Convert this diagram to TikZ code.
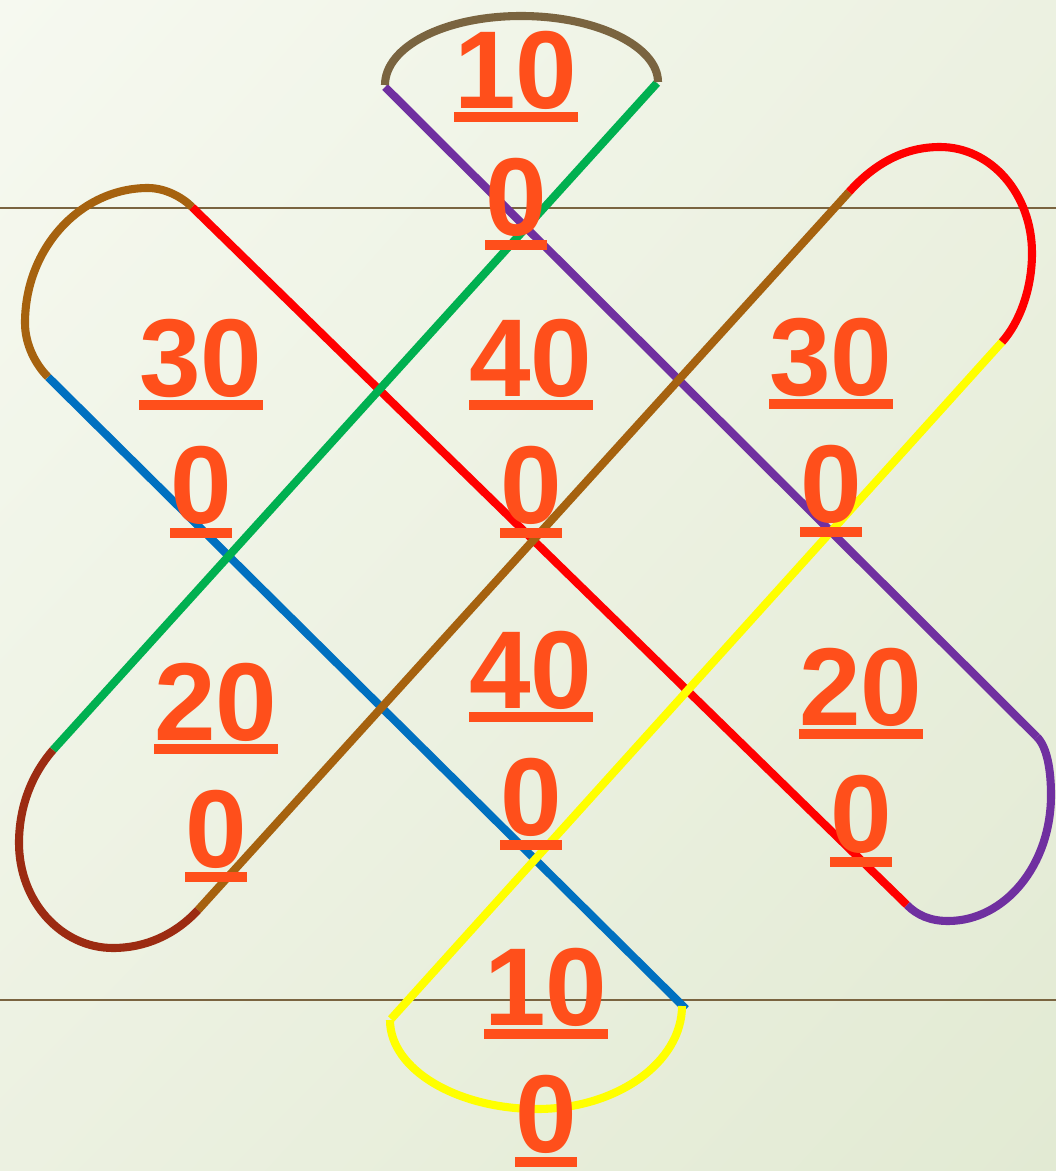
\documentclass[tikz,border=0pt]{standalone}
\usepackage{fontspec}
\setmainfont{Liberation Sans}
\usepackage{tikz}
\usetikzlibrary{positioning, shadings}

\definecolor{bgA}{HTML}{F6F9F0}
\definecolor{bgB}{HTML}{ECF1E1}
\definecolor{bgC}{HTML}{E2EAD3}
\definecolor{ruleline}{HTML}{7A6440}
\definecolor{numorange}{HTML}{FF4F1B}
\definecolor{kpurple}{HTML}{7030A0}
\definecolor{kgreen}{HTML}{00B050}
\definecolor{kred}{HTML}{FF0000}
\definecolor{kblue}{HTML}{0070C0}
\definecolor{kbrown}{HTML}{A6620F}
\definecolor{kyellow}{HTML}{FFFF00}
\definecolor{kmaroon}{HTML}{9C2B12}
\definecolor{kolive}{HTML}{7A6440}

% underlined number
\newcommand{\ulnum}[1]{\setbox0\hbox{#1}\rlap{\rule[-4pt]{\wd0}{2.85pt}}\box0}

\begin{document}
\begin{tikzpicture}[x=0.1mm, y=-0.1mm,
    strand/.style={line width=2.3pt},
    guide/.style={line width=0.6pt, draw=ruleline},
    num/.style={font=\bfseries\fontsize{31.5}{36.4}\selectfont, text=numorange,
                align=center, inner sep=0pt, anchor=north}]
    \useasboundingbox (0,0) rectangle (1056,1171);
    % background
    \shade[upper left=bgA, upper right=bgB, lower left=bgB, lower right=bgC]
        (0,0) rectangle (1056,1171);
    % guide lines
    \coordinate (gl1) at (0,208);    \coordinate (gr1) at (1056,208);
    \coordinate (gl2) at (0,1000);   \coordinate (gr2) at (1056,1000);
    \draw[guide] (gl1) -- (gr1);
    \draw[guide] (gl2) -- (gr2);

    % strand ends
    \coordinate (purA) at (385,87);   \coordinate (purB) at (1037,737);
    \coordinate (redA) at (192,207);  \coordinate (redB) at (907,905);
    \coordinate (bluA) at (48,377);   \coordinate (bluB) at (686,1009);
    \coordinate (grnA) at (657,83);   \coordinate (grnB) at (53,750);
    \coordinate (brnA) at (849,192);  \coordinate (brnB) at (198,910);
    \coordinate (yelA) at (1002,342); \coordinate (yelB) at (391,1019);

    % straight strands
    \draw[strand, kblue]   (bluA) -- (bluB);
    \draw[strand, kred]    (redA) -- (redB);
    \draw[strand, kpurple] (purA) -- (purB);
    \draw[strand, kgreen]  (grnA) -- (grnB);
    \draw[strand, kbrown]  (brnA) -- (brnB);
    \draw[strand, kyellow] (yelA) -- (yelB);

    % loops
    \draw[strand, kolive] (385,85) .. controls (385,47) and (444,16) .. (521,16)
        .. controls (598,16) and (658,47) .. (658,82);
    \draw[strand, kbrown] (redA) .. controls (182,197) and (165,188) .. (148,188)
        .. controls (81,188) and (25,248) .. (25,323)
        .. controls (25,345) and (36,365) .. (bluA);
    \draw[strand, kred] (brnA) .. controls (875,163) and (905,147) .. (940,147)
        .. controls (991,147) and (1032,194) .. (1032,253)
        .. controls (1032,290) and (1019,323) .. (yelA);
    \draw[strand, kmaroon] (grnB) .. controls (33,773) and (19,805) .. (19,843)
        .. controls (19,901) and (61,948) .. (113,948)
        .. controls (145,948) and (175,935) .. (brnB);
    \draw[strand, kpurple] (purB) .. controls (1047,747) and (1051,770) .. (1051,795)
        .. controls (1051,865) and (1005,921) .. (948,921)
        .. controls (930,921) and (917,915) .. (redB);
    \draw[strand, kyellow] (390,1020) .. controls (390,1070) and (458,1109) .. (537,1109)
        .. controls (617,1109) and (682,1062) .. (682,1006);

    % numbers
    \node[num] (nTop)  at (516,30)  {\ulnum{10}\\\ulnum{0}};
    \node[num] (nUL)   at (201,318) {\ulnum{30}\\\ulnum{0}};
    \node[num] (nUM)   at (531,318) {\ulnum{40}\\\ulnum{0}};
    \node[num] (nUR)   at (831,317) {\ulnum{30}\\\ulnum{0}};
    \node[num] (nLL)   at (216,662) {\ulnum{20}\\\ulnum{0}};
    \node[num] (nLM)   at (531,630) {\ulnum{40}\\\ulnum{0}};
    \node[num] (nLR)   at (861,647) {\ulnum{20}\\\ulnum{0}};
    \node[num] (nBot)  at (546,947) {\ulnum{10}\\\ulnum{0}};
\end{tikzpicture}
\end{document}
